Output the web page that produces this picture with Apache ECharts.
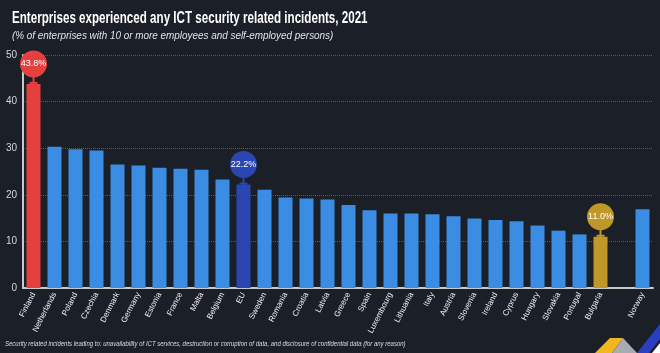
<!DOCTYPE html>
<html>
<head>
<meta charset="utf-8">
<script src="https://cdn.jsdelivr.net/npm/echarts@6/dist/echarts.min.js"></script>
<style>
  html, body { margin: 0; padding: 0; background: #1b1f28; }
  #chart { width: 660px; height: 353px; }
</style>
</head>
<body>
<div id="chart"></div>
<script>
// countries, EU average and Norway (blank slot before Norway)
var countries = ['Finland', 'Netherlands', 'Poland', 'Czechia', 'Denmark', 'Germany', 'Estonia', 'France',
    'Malta', 'Belgium', 'EU', 'Sweden', 'Romania', 'Croatia', 'Latvia', 'Greece', 'Spain', 'Luxembourg',
    'Lithuania', 'Italy', 'Austria', 'Slovenia', 'Ireland', 'Cyprus', 'Hungary', 'Slovakia', 'Portugal',
    'Bulgaria', '', 'Norway'];
var shares = [43.8, 30.3, 29.8, 29.5, 26.5, 26.3, 25.8, 25.6, 25.4, 23.3, 22.2, 21.1, 19.4, 19.2, 19.0,
    17.8, 16.7, 16.0, 16.0, 15.8, 15.4, 14.9, 14.6, 14.3, 13.4, 12.3, 11.5, 11.0, null, 16.9];
var yTicks = [0, 10, 20, 30, 40, 50];
var highlighted = { 'Finland': '#e5403e', 'EU': '#2b46b3', 'Bulgaria': '#bf9827' };

var FONT = "'Liberation Sans', sans-serif";
var barColor = '#3b8de4';

var barData = shares.map(function (v, i) {
    return { value: v, itemStyle: { color: highlighted[countries[i]] || barColor } };
});

// bubbles with a little stem on the highlighted bars
var marks = [];
Object.keys(highlighted).forEach(function (name) {
    var v = shares[countries.indexOf(name)];
    var c = highlighted[name];
    marks.push({ coord: [name, v], symbol: 'rect', symbolSize: [2, 9], symbolOffset: [0, -4],
        itemStyle: { color: c }, label: { show: false } });
    marks.push({ coord: [name, v], symbol: 'rect', symbolSize: [8, 2], symbolOffset: [0, -1],
        itemStyle: { color: c }, label: { show: false } });
    marks.push({ coord: [name, v], value: v.toFixed(1) + '%', symbol: 'circle', symbolSize: 27,
        symbolOffset: [0, -20], itemStyle: { color: c } });
});

var chart = echarts.init(document.getElementById('chart'));
chart.setOption({
    backgroundColor: '#1b1f28',
    animation: false,
    grid: { left: 23, right: 7, top: 55, bottom: 65 },
    xAxis: {
        type: 'category',
        data: countries,
        axisTick: { show: false },
        axisLine: { lineStyle: { color: '#c9c9c9', width: 2 } },
        axisLabel: { interval: 0, rotate: 63, margin: 5, color: '#f2f2f2', fontSize: 8, fontFamily: FONT }
    },
    yAxis: {
        type: 'value',
        min: yTicks[0],
        max: yTicks[yTicks.length - 1],
        interval: 10,
        axisLine: { show: true, lineStyle: { color: '#c9c9c9', width: 2 } },
        axisTick: { show: false },
        axisLabel: { color: '#d6d6d6', fontSize: 10, margin: 6, fontFamily: FONT },
        splitLine: { lineStyle: { color: '#555b66', type: 'dotted' } }
    },
    series: [{
        type: 'bar',
        barWidth: 14,
        data: barData,
        markPoint: {
            data: marks,
            label: { color: '#ffffff', fontSize: 9, fontFamily: FONT, formatter: function (p) { return p.value; } }
        }
    }],
    graphic: [
        {
            type: 'text', x: 12, y: 18, scaleX: 0.683,
            style: {
                text: 'Enterprises experienced any ICT security related incidents, 2021',
                fill: '#ffffff', font: 'bold 17px ' + FONT, verticalAlign: 'middle'
            }
        },
        {
            type: 'text', x: 12, y: 36, scaleX: 0.9,
            style: {
                text: '(% of enterprises with 10 or more employees and self-employed persons)',
                fill: '#e2e2e2', font: 'italic 11px ' + FONT, verticalAlign: 'middle'
            }
        },
        {
            type: 'text', x: 5, y: 344, scaleX: 0.858,
            style: {
                text: 'Security related incidents leading to: unavailability of ICT services, destruction or corruption of data, and disclosure of confidential data (for any reason)',
                fill: '#dcdcdc', font: 'italic 7px ' + FONT, verticalAlign: 'middle'
            }
        },
        { type: 'polygon', shape: { points: [[595, 353], [610, 338], [623, 338], [612, 353]] }, style: { fill: '#f2b61f' } },
        { type: 'polygon', shape: { points: [[612, 353], [623, 338], [637, 353]] }, style: { fill: '#a9abb0' } },
        { type: 'polygon', shape: { points: [[637, 353], [660, 324], [660, 339], [649, 353]] }, style: { fill: '#2a3fbf' } },
        { type: 'polygon', shape: { points: [[652, 353], [660, 343], [660, 353]] }, style: { fill: '#ffffff' } }
    ]
});
window.addEventListener('resize', function () { chart.resize(); });
</script>
</body>
</html>
